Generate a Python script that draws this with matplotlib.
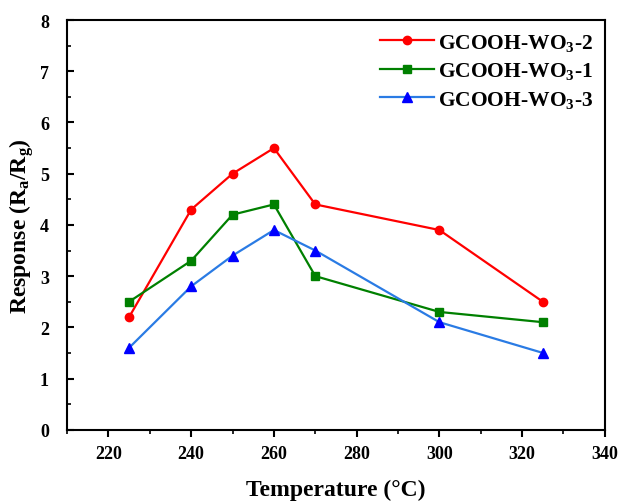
import matplotlib.pyplot as plt
from matplotlib.ticker import MultipleLocator

plt.rcParams['font.family'] = ['Liberation Serif', 'DejaVu Serif']
plt.rcParams['font.weight'] = 'bold'
plt.rcParams['mathtext.fontset'] = 'custom'
plt.rcParams['mathtext.rm'] = 'Liberation Serif:bold'
plt.rcParams['mathtext.it'] = 'Liberation Serif:bold'
plt.rcParams['mathtext.bf'] = 'Liberation Serif:bold'

temperature = [225, 240, 250, 260, 270, 300, 325]
resp_wo3_2 = [2.2, 4.3, 5.0, 5.5, 4.4, 3.9, 2.5]
resp_wo3_1 = [2.5, 3.3, 4.2, 4.4, 3.0, 2.3, 2.1]
resp_wo3_3 = [1.6, 2.8, 3.4, 3.9, 3.5, 2.1, 1.5]

fig = plt.figure(figsize=(6.21, 5.02), dpi=100)
ax = fig.add_axes([0.108, 0.142, 0.866, 0.816])

ax.plot(temperature, resp_wo3_2, color='red', marker='o', markersize=6,
        linewidth=1.6, label=r'GCOOH-WO$_3$-2')
ax.plot(temperature, resp_wo3_1, color='green', marker='s', markersize=6,
        linewidth=1.6, label=r'GCOOH-WO$_3$-1')
ax.plot(temperature, resp_wo3_3, color='#2a7be4', marker='^', markersize=7,
        markerfacecolor='blue', markeredgecolor='blue',
        linewidth=1.6, label=r'GCOOH-WO$_3$-3')

ax.set_xlim(210, 340)
ax.set_ylim(0, 8)
ax.xaxis.set_major_locator(MultipleLocator(20))
ax.xaxis.set_minor_locator(MultipleLocator(10))
ax.yaxis.set_major_locator(MultipleLocator(1))
ax.yaxis.set_minor_locator(MultipleLocator(0.5))

ax.tick_params(axis='x', which='major', direction='out', length=5, width=1.5,
               labelsize=13, pad=6)
ax.tick_params(axis='x', which='minor', direction='out', length=3, width=1.2)
ax.tick_params(axis='y', which='major', direction='in', length=5, width=1.5,
               labelsize=13, pad=13)
ax.tick_params(axis='y', which='minor', direction='in', length=3, width=1.2)
for s in ax.spines.values():
    s.set_linewidth(1.5)

ax.set_xlabel('Temperature (°C)', fontsize=17, fontweight='bold', labelpad=12)
ax.set_ylabel(r'Response (R$_a$/R$_g$)', fontsize=17, fontweight='bold', labelpad=3)

ax.legend(loc='upper right', frameon=False, fontsize=15.5, handlelength=2.5,
          labelspacing=0.35, borderaxespad=0.15, handletextpad=0.2)

fig.savefig('out.png', dpi=100)
